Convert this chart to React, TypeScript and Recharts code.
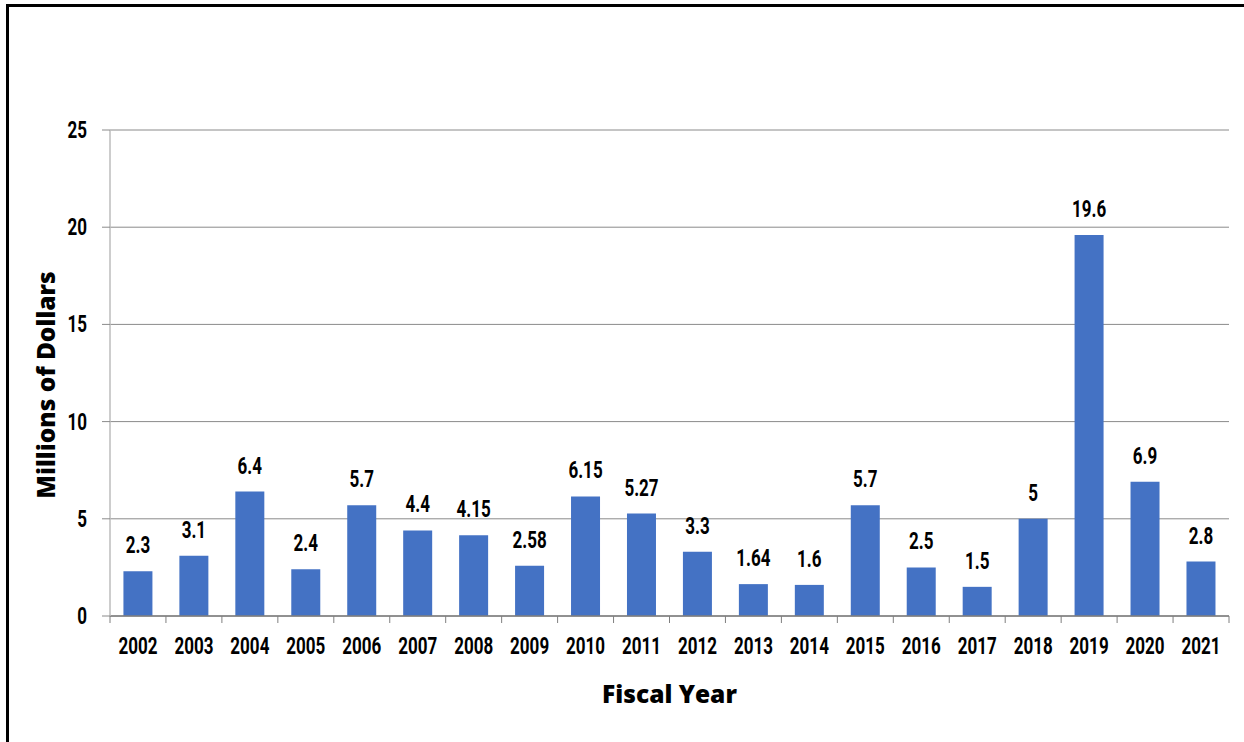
import React from 'react';
import { BarChart, Bar, XAxis, YAxis, CartesianGrid, LabelList } from 'recharts';

const years = ['2002','2003','2004','2005','2006','2007','2008','2009','2010','2011','2012','2013','2014','2015','2016','2017','2018','2019','2020','2021'];
const values = [2.3, 3.1, 6.4, 2.4, 5.7, 4.4, 4.15, 2.58, 6.15, 5.27, 3.3, 1.64, 1.6, 5.7, 2.5, 1.5, 5, 19.6, 6.9, 2.8];
const yTicks = [0, 5, 10, 15, 20, 25];

const data = years.map((y, i) => ({ year: y, value: values[i] }));

const NARROW = 'Roboto, sans-serif';
const SX = 0.74;
const NSIZE = 23;
const TITLE = '"Open Sans", Lato, sans-serif';

const W = 1244;
const H = 742;
const M = { top: 130, right: 15, left: 20, bottom: 0 };
const Y_W = 90;
const X_H = 126;
const PLOT_W = W - M.left - M.right - Y_W;
const BAND = PLOT_W / years.length;

const NarrowText = ({ x, y, anchor, children }: any) => (
  <text
    transform={`translate(${x},${y}) scale(${SX},1)`}
    textAnchor={anchor}
    fontFamily={NARROW}
    fontWeight="bold"
    fontSize={NSIZE}
    fill="#000"
  >
    {children}
  </text>
);

const XTick = (props: any) => {
  const { x, y, payload, index } = props;
  const left = x - BAND / 2;
  return (
    <g>
      <line x1={left} y1={y} x2={left} y2={y + 7} stroke="#7f7f7f" strokeWidth={1} />
      {index === years.length - 1 && (
        <line x1={x + BAND / 2} y1={y} x2={x + BAND / 2} y2={y + 7} stroke="#7f7f7f" strokeWidth={1} />
      )}
      <NarrowText x={x} y={y + 38} anchor="middle">{payload.value}</NarrowText>
    </g>
  );
};

const YTick = (props: any) => {
  const { x, y, payload } = props;
  return <NarrowText x={x} y={y + 8} anchor="end">{payload.value}</NarrowText>;
};

const BarLabel = (props: any) => {
  const { x, y, width, value } = props;
  return <NarrowText x={x + width / 2} y={y - 18} anchor="middle">{value}</NarrowText>;
};

export default function App() {
  return (
    <div style={{ position: 'fixed', left: 0, top: 0, width: W, height: H, background: '#fff', overflow: 'hidden' }}>
      <div
        style={{
          position: 'absolute',
          left: 6,
          top: 4,
          width: 1300,
          height: 800,
          borderLeft: '3px solid #000',
          borderTop: '3px solid #000',
        }}
      />
      <div style={{ position: 'absolute', left: 0, top: 0 }}>
        <BarChart width={W} height={H} data={data} margin={M} barCategoryGap="24%">
          <CartesianGrid vertical={false} stroke="#8a8a8a" strokeWidth={1} />
          <XAxis
            dataKey="year"
            height={X_H}
            tickSize={0}
            tickMargin={0}
            tickLine={false}
            axisLine={{ stroke: '#7f7f7f', strokeWidth: 1.5 }}
            tick={<XTick />}
            interval={0}
            label={{
              content: (p: any) => {
                const vb = p.viewBox;
                return (
                  <text
                    x={vb.x + vb.width / 2}
                    y={vb.y + 87}
                    textAnchor="middle"
                    fontFamily={TITLE}
                    fontWeight={800}
                    fontSize={24.5}
                    fill="#000"
                  >
                    Fiscal Year
                  </text>
                );
              },
            }}
          />
          <YAxis
            width={Y_W}
            domain={[0, 25]}
            ticks={yTicks}
            interval={0}
            tickSize={8}
            tickMargin={15}
            tickLine={{ stroke: '#8a8a8a' }}
            axisLine={{ stroke: '#bdbdbd', strokeWidth: 1.5 }}
            tick={<YTick />}
            label={{
              content: (p: any) => {
                const vb = p.viewBox;
                const cx = vb.x + 25;
                const cy = vb.y + vb.height / 2 + 12;
                return (
                  <text
                    x={cx}
                    y={cy}
                    transform={`rotate(-90 ${cx} ${cy})`}
                    textAnchor="middle"
                    dominantBaseline="central"
                    fontFamily={TITLE}
                    fontWeight={800}
                    fontSize={24.5}
                    fill="#000"
                  >
                    Millions of Dollars
                  </text>
                );
              },
            }}
          />
          <Bar dataKey="value" fill="#4472C4" isAnimationActive={false}>
            <LabelList dataKey="value" content={<BarLabel />} />
          </Bar>
        </BarChart>
      </div>
    </div>
  );
}
